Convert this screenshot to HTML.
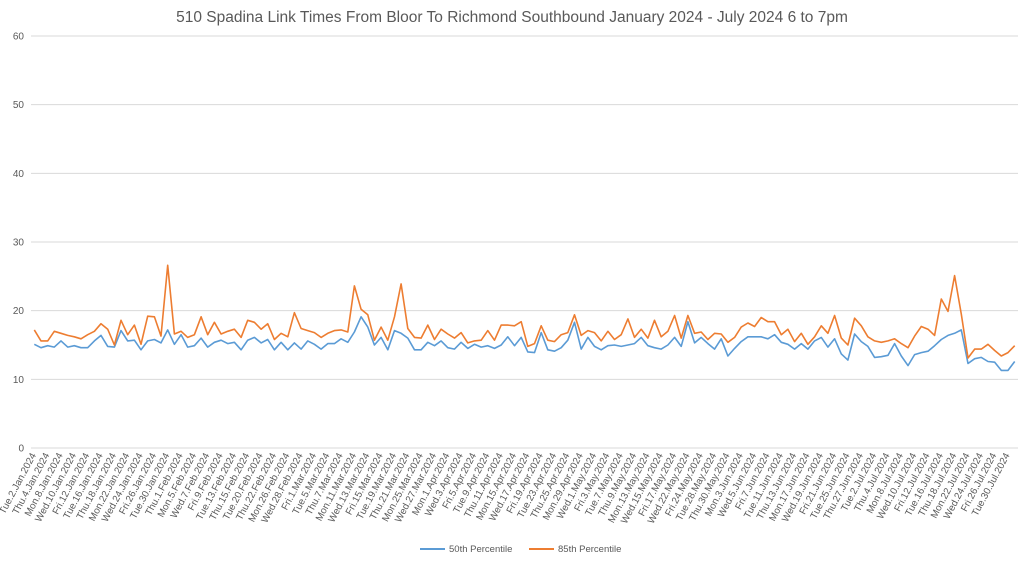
<!DOCTYPE html>
<html><head><meta charset="utf-8"><style>
body{margin:0;background:#fff;}
svg{display:block;font-family:"Liberation Sans",sans-serif;}
</style></head><body>
<svg id="chart" width="1024" height="561" viewBox="0 0 1024 561">
<text x="512" y="22" text-anchor="middle" font-size="15.5" fill="#595959">510 Spadina Link Times From Bloor To Richmond Southbound January 2024 - July 2024 6 to 7pm</text>
<g id="grid"></g><g id="xl"></g><g id="series"></g>
<g>
<line x1="420" y1="549" x2="445" y2="549" stroke="#5b9bd5" stroke-width="2"/>
<text x="449" y="552" font-size="9.5" fill="#595959">50th Percentile</text>
<line x1="529" y1="549" x2="554" y2="549" stroke="#ed7d31" stroke-width="2"/>
<text x="558" y="552" font-size="9.5" fill="#595959">85th Percentile</text>
</g>
</svg>
<script>
const yTicks=[0,10,20,30,40,50,60];
const holidays=["2024-02-19","2024-03-29","2024-05-20","2024-07-01"];
const p50=[15.1,14.6,14.9,14.7,15.6,14.7,14.9,14.6,14.6,15.6,16.4,14.8,14.7,17.1,15.6,15.7,14.3,15.6,15.8,15.3,17.2,15.1,16.5,14.7,14.9,16.0,14.7,15.4,15.7,15.2,15.4,14.3,15.7,16.1,15.3,15.8,
14.3,15.4,14.3,15.3,14.4,15.6,15.1,14.4,15.2,15.2,15.9,15.4,16.9,19.1,17.6,15.0,16.1,14.3,17.1,16.7,16.0,14.3,14.3,15.4,14.9,15.6,14.6,14.4,15.4,14.5,15.1,14.7,14.9,14.5,15.0,16.2,14.9,16.1,14.0,
13.9,16.8,14.3,14.1,14.6,15.7,18.3,14.4,16.1,14.8,14.3,14.9,15.0,14.8,15.0,15.2,16.1,14.9,14.6,14.4,15.0,16.1,14.8,18.4,15.3,16.1,15.2,14.4,15.9,13.4,14.5,15.5,16.2,16.2,16.2,15.9,16.5,
15.4,15.1,14.4,15.2,14.4,15.6,16.1,14.7,15.9,13.7,12.8,16.6,15.5,14.8,13.2,13.3,13.5,15.2,13.4,12.0,13.6,13.9,14.1,14.9,15.8,16.4,16.7,17.2,12.3,13.0,13.2,12.6,12.5,11.3,11.3,12.6];
const p85=[17.2,15.6,15.6,17.0,16.7,16.4,16.2,15.9,16.5,17.0,18.1,17.3,15.0,18.6,16.5,17.9,15.1,19.2,19.1,16.3,26.6,16.6,17.0,16.1,16.5,19.1,16.5,18.3,16.6,17.0,17.3,16.1,18.6,18.3,17.3,18.1,
15.8,16.7,16.2,19.7,17.4,17.1,16.8,16.1,16.7,17.1,17.2,16.9,23.6,20.2,19.4,15.7,17.6,15.7,19.1,23.9,17.4,16.1,16.0,17.9,15.8,17.3,16.6,16.0,16.8,15.3,15.6,15.7,17.1,15.7,17.9,17.9,17.8,18.4,14.8,
15.2,17.8,15.7,15.5,16.5,16.8,19.4,16.4,17.1,16.8,15.6,17.0,15.8,16.5,18.8,16.1,17.3,16.0,18.6,16.2,17.0,19.3,16.0,19.3,16.7,16.9,15.8,16.7,16.6,15.4,16.1,17.6,18.2,17.7,19.0,18.4,18.4,
16.5,17.3,15.5,16.7,15.1,16.2,17.8,16.7,19.3,16.0,15.0,18.9,17.8,16.2,15.6,15.4,15.6,15.9,15.2,14.6,16.3,17.7,17.3,16.4,21.7,19.9,25.1,19.5,13.1,14.4,14.4,15.1,14.2,13.4,13.9,14.9];
const days=["Sun","Mon","Tue","Wed","Thu","Fri","Sat"],mons=["Jan","Feb","Mar","Apr","May","Jun","Jul","Aug"];
const categories=[];
for(let d=new Date(Date.UTC(2024,0,2));d<=new Date(Date.UTC(2024,6,31));d.setUTCDate(d.getUTCDate()+1)){
 const w=d.getUTCDay();if(w==0||w==6)continue;
 if(holidays.includes(d.toISOString().slice(0,10)))continue;
 categories.push(days[w]+"."+d.getUTCDate()+"."+mons[d.getUTCMonth()]+".2024");
}
const L=31,R=1018,T=36,B=448,NS="http://www.w3.org/2000/svg";
const n=categories.length;
const xs=i=>L+(i+0.5)*(R-L)/n;
const ys=v=>B-(v/60)*(B-T);
function mk(t,a,p){const e=document.createElementNS(NS,t);for(const k in a)e.setAttribute(k,a[k]);p.appendChild(e);return e;}
const grid=document.getElementById('grid');
yTicks.forEach(t=>{
 const l=mk('line',{x1:L,x2:R,y1:ys(t),y2:ys(t),stroke:'#d9d9d9','stroke-width':1},grid);
 
 
 const tx=mk('text',{x:24,y:ys(t)+3.5,'text-anchor':'end','font-size':10,fill:'#595959'},grid);
 tx.textContent=t;
 
 
});
const xl=document.getElementById('xl');
categories.forEach((c,i)=>{
 if(i%2)return;
 const x=xs(i)+2,y=455;
 const tx=mk('text',{x:x,y:y,'text-anchor':'end','font-size':9.8,fill:'#595959',transform:`rotate(-62 ${x} ${y})`},xl);
 tx.textContent=c;
 
 
});
const sg=document.getElementById('series');
[[p50,'#5b9bd5','series-50th-percentile'],[p85,'#ed7d31','series-85th-percentile']].forEach(([arr,col,name])=>{
 const pts=arr.map((v,i)=>xs(i).toFixed(1)+','+ys(v).toFixed(1)).join(' ');
 const pl=mk('polyline',{points:pts,fill:'none',stroke:col,'stroke-width':1.6,'stroke-linejoin':'round'},sg);
 
 
});
</script>
</body></html>
